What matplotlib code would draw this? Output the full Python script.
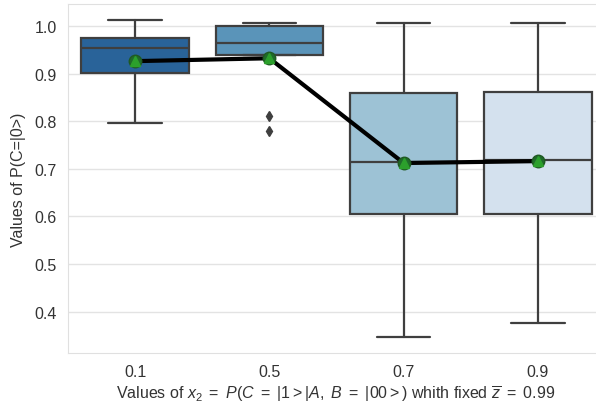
import matplotlib
matplotlib.use("Agg")
import matplotlib.pyplot as plt
import seaborn as sns

# x2 settings and box statistics of P(C=|0>) read per group
x2_labels = ["0.1", "0.5", "0.7", "0.9"]
whislo = [0.796, 0.939, 0.347, 0.376]
q1     = [0.901, 0.939, 0.605, 0.604]
med    = [0.953, 0.964, 0.714, 0.719]
q3     = [0.975, 0.999, 0.859, 0.862]
whishi = [1.012, 1.006, 1.006, 1.006]
fliers = [[], [0.810, 0.780], [], []]
means  = [0.926, 0.932, 0.712, 0.716]

sns.set_style("whitegrid")
plt.rcParams["font.family"] = ["Liberation Sans", "DejaVu Sans"]
plt.rcParams["mathtext.fontset"] = "custom"
plt.rcParams["mathtext.rm"] = "Liberation Sans"
plt.rcParams["mathtext.it"] = "Liberation Sans:italic"

colors = sns.color_palette("Blues_r", 4, desat=0.75)
edge = "#3f3f3f"

fig = plt.figure(figsize=(5.96, 4.10), dpi=100)
ax = fig.add_axes([68 / 596, 1 - 354 / 410, (605 - 68) / 596, (354 - 5) / 410])

stats = []
for i in range(len(x2_labels)):
    stats.append(dict(whislo=whislo[i], q1=q1[i], med=med[i], q3=q3[i],
                      whishi=whishi[i], fliers=fliers[i], mean=means[i]))

pos = list(range(len(x2_labels)))
bp = ax.bxp(stats, positions=pos, widths=0.8, patch_artist=True,
            showmeans=False,
            boxprops=dict(edgecolor=edge, linewidth=1.6),
            medianprops=dict(color=edge, linewidth=1.6),
            whiskerprops=dict(color=edge, linewidth=1.6),
            capprops=dict(color=edge, linewidth=1.6),
            flierprops=dict(marker="d", markerfacecolor=edge, markeredgecolor=edge,
                            markersize=5.5))
for patch, c in zip(bp["boxes"], colors):
    patch.set_facecolor(c)
for cap in bp["caps"]:
    x = cap.get_xdata()
    mid = (x[0] + x[1]) / 2
    cap.set_xdata([mid - 0.2, mid + 0.2])

# mean trend line
ax.plot(pos, means, color="black", linewidth=3, marker="o", markersize=9,
        markerfacecolor="#1f6a2a", markeredgecolor="#1f5a22", zorder=5)
ax.plot(pos, means, linestyle="none", marker="^", markersize=7,
        markerfacecolor="#2ca02c", markeredgecolor="#2ca02c", zorder=6)

ax.set_xlim(-0.5, 3.5)
ax.set_ylim(0.313, 1.046)
ax.set_xticks(pos)
ax.set_xticklabels(x2_labels)
ax.set_yticks([0.4, 0.5, 0.6, 0.7, 0.8, 0.9, 1.0])
ax.grid(axis="x", visible=False)
ax.grid(axis="y", color="#e3e3e3", linewidth=1)
for s in ax.spines.values():
    s.set_color("#e0e0e0")
ax.tick_params(labelsize=11.5, colors="#333333", length=0, pad=8)

ax.set_ylabel("Values of P(C=|0>)", fontsize=11.5, color="#333333", labelpad=6)
fig.text(336 / 596, 1 - 394 / 410,
         r"Values of $x_2\ =\ P(C\ =\ |1>|A,\ B\ =\ |00>)$ whith fixed $\overline{z}\ =\ 0.99$",
         ha="center", va="center", fontsize=11.5, color="#333333")

fig.savefig("out.png", dpi=100)
